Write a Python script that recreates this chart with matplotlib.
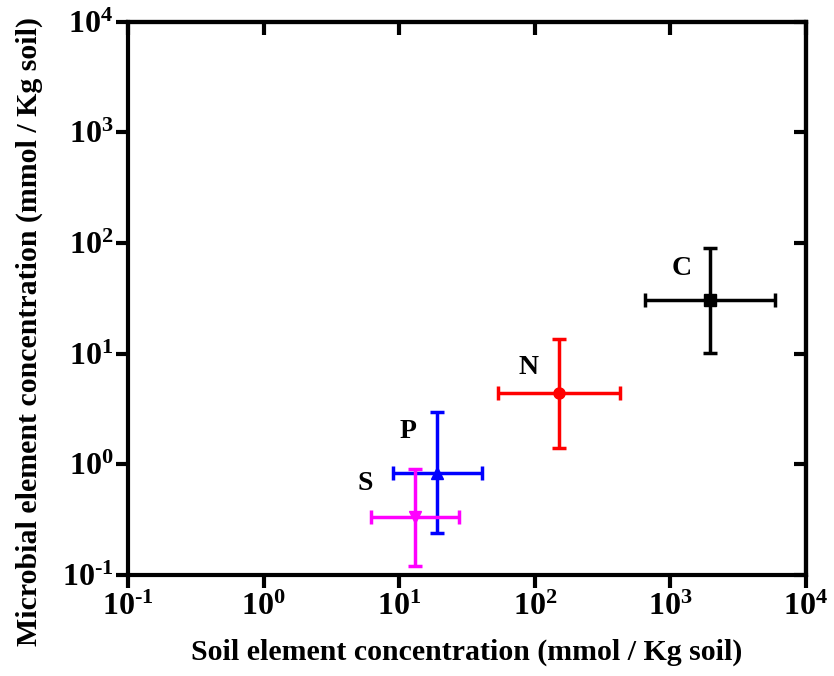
import matplotlib
matplotlib.use("Agg")
import matplotlib.pyplot as plt
import numpy as np

plt.rcParams['font.family'] = ['Liberation Serif', 'DejaVu Serif']
plt.rcParams['font.weight'] = 'bold'
plt.rcParams['mathtext.fontset'] = 'custom'
plt.rcParams['mathtext.rm'] = 'Liberation Serif:bold'
plt.rcParams['mathtext.bf'] = 'Liberation Serif:bold'
plt.rcParams['mathtext.it'] = 'Liberation Serif:bold'

# Data
elements = ['C', 'N', 'P', 'S']
soil_center = [1960, 151, 19.1, 13.1]
soil_low = [650, 53.5, 8.96, 6.16]
soil_high = [5900, 425, 40.6, 27.7]
micro_center = [30.5, 4.41, 0.84, 0.337]
micro_low = [10.2, 1.40, 0.238, 0.121]
micro_high = [91, 13.5, 2.95, 0.90]
colors = ['black', 'red', 'blue', 'magenta']
markers = ['s', 'o', '^', 'v']
label_offsets = [(-28, 32), (-31, 26), (-29, 41), (-50, 33)]

tick_vals = [1e-1, 1e0, 1e1, 1e2, 1e3, 1e4]
tick_labels = ['10$^{\\text{-1}}$', '10$^{0}$', '10$^{1}$',
               '10$^{2}$', '10$^{3}$', '10$^{4}$']

fig = plt.figure(figsize=(8.34, 6.76), dpi=100)
ax = fig.add_axes([128/834, 1-575/676, (806-128)/834, (575-21.7)/676])

for i, el in enumerate(elements):
    xc, yc = soil_center[i], micro_center[i]
    xerr = [[xc - soil_low[i]], [soil_high[i] - xc]]
    yerr = [[yc - micro_low[i]], [micro_high[i] - yc]]
    ax.errorbar([xc], [yc], xerr=xerr, yerr=yerr, fmt=markers[i], color=colors[i],
                ecolor=colors[i], elinewidth=2.5, capsize=5, capthick=2.5,
                markersize=8)
    ax.annotate(el, (xc, yc), xytext=label_offsets[i], textcoords='offset pixels',
                ha='center', va='center', fontsize=20, fontweight='bold', color='black')

ax.set_xscale('log')
ax.set_yscale('log')
ax.set_xlim(1e-1, 1e4)
ax.set_ylim(1e-1, 1e4)
ax.set_xticks(tick_vals)
ax.set_xticklabels(tick_labels)
ax.set_yticks(tick_vals)
ax.set_yticklabels(tick_labels)
ax.minorticks_off()

for s in ax.spines.values():
    s.set_linewidth(3)

ax.tick_params(axis='both', which='major', direction='out', length=9, width=3,
               labelsize=23, pad=4)
ax.tick_params(axis='y', pad=1.5)

# inward ticks on top and right
axt = ax.secondary_xaxis('top')
axt.set_xticks(tick_vals)
axt.tick_params(direction='in', length=9, width=3, labeltop=False)
axt.minorticks_off()
axt.spines['top'].set_linewidth(3)
axr = ax.secondary_yaxis('right')
axr.set_yticks(tick_vals)
axr.tick_params(direction='in', length=9, width=3, labelright=False)
axr.minorticks_off()
axr.spines['right'].set_linewidth(3)

ax.set_xlabel('Soil element concentration (mmol / Kg soil)', fontsize=21.5, fontweight='bold')
ax.set_ylabel('Microbial element concentration (mmol / Kg soil)', fontsize=21.5, fontweight='bold')
ax.xaxis.set_label_coords(0.5, -0.115)
ax.yaxis.set_label_coords(-0.126, 0.44)

fig.savefig('out.png', dpi=100)
